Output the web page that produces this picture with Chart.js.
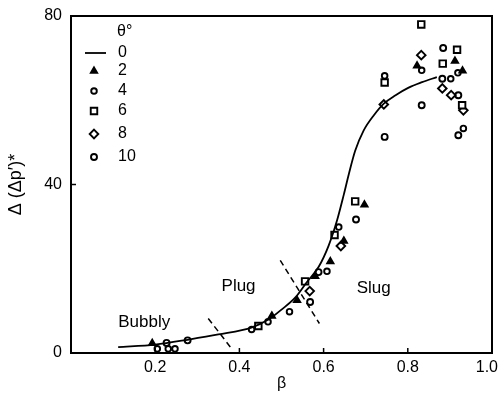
<!DOCTYPE html>
<html><head><meta charset="utf-8">
<script src="https://cdn.jsdelivr.net/npm/chart.js@4/dist/chart.umd.min.js"></script>
<style>html,body{margin:0;padding:0;background:#fff}</style>
</head><body>
<canvas id="c" width="499" height="393"></canvas>
<script>
// ---- data ----
const xTicks = [0.2, 0.4, 0.6, 0.8, 1.0];
const xTickLabels = ['0.2', '0.4', '0.6', '0.8', '1.0'];
const yTicks = [0, 40, 80];
const legendTitle = 'θ°';

// theta = 0 : fitted curve
const curveBeta = [0.112, 0.2, 0.28, 0.35, 0.43, 0.47, 0.50, 0.533, 0.56, 0.588, 0.612, 0.632, 0.648, 0.66, 0.675, 0.695, 0.719, 0.743, 0.771, 0.802, 0.834, 0.869];
const curveY    = [1.4, 2.0, 3.2, 4.4, 6.1, 8.0, 10.3, 13.2, 16.8, 20.4, 25.5, 31.5, 37.6, 42.5, 48.0, 52.8, 56.4, 59.2, 61.2, 63.0, 64.3, 65.5];

// theta = 2 (filled triangles)
const t2Beta = [0.193, 0.477, 0.537, 0.580, 0.616, 0.648, 0.697, 0.822, 0.912, 0.930];
const t2Y    = [2.3, 8.8, 12.5, 18.2, 21.7, 26.6, 35.2, 68.2, 69.3, 67.0];

// theta = 4 (small circles)
const t4Beta = [0.205, 0.231, 0.247, 0.429, 0.468, 0.519, 0.608, 0.636, 0.745, 0.833, 0.902, 0.919, 0.932];
const t4Y    = [1.0, 1.0, 1.0, 5.6, 7.4, 9.8, 19.4, 29.9, 65.8, 67.1, 65.1, 66.5, 53.3];

// theta = 6 (squares)
const t6Beta = [0.445, 0.556, 0.626, 0.675, 0.745, 0.832, 0.883, 0.917, 0.929];
const t6Y    = [6.4, 17.0, 28.0, 36.0, 64.2, 78.0, 68.7, 72.0, 58.8];

// theta = 8 (diamonds)
const t8Beta = [0.567, 0.641, 0.743, 0.832, 0.882, 0.903, 0.932];
const t8Y    = [14.7, 25.4, 59.0, 70.7, 62.8, 61.2, 57.6];

// theta = 10 (circles)
const t10Beta = [0.227, 0.277, 0.568, 0.588, 0.677, 0.745, 0.833, 0.884, 0.882, 0.920, 0.920];
const t10Y    = [2.4, 3.0, 12.1, 19.2, 31.7, 51.3, 58.8, 72.4, 65.1, 61.2, 51.7];

// flow-regime boundaries (dashed)
const bound1Beta = [0.326, 0.381];
const bound1Y    = [8.2, 1.1];
const bound2Beta = [0.497, 0.590];
const bound2Y    = [22.0, 7.0];

// regime labels
const regimeNames = ['Bubbly', 'Plug', 'Slug'];
const regimeBeta  = [0.174, 0.398, 0.719];
const regimeY     = [7.3, 15.8, 15.4];

const pts = (xs, ys) => xs.map((x, i) => ({x, y: ys[i]}));
const FONT = "'Liberation Sans', Arial, sans-serif";
const MW = 1.9;

function mk(label, xs, ys, style, r, fill) {
  return {
    type: 'scatter', label, data: pts(xs, ys),
    pointStyle: style, pointRadius: r, pointHoverRadius: r,
    pointBorderWidth: MW, pointBorderColor: '#000',
    pointBackgroundColor: fill ? '#000' : '#fff',
    showLine: false
  };
}

const datasets = [
  { type: 'line', label: '0', data: pts(curveBeta, curveY), borderColor: '#000', borderWidth: 1.8,
    pointRadius: 0, fill: false, cubicInterpolationMode: 'monotone', legendLine: true },
  mk('2', t2Beta, t2Y, 'triangle', 3.6, true),
  mk('4', t4Beta, t4Y, 'circle', 2.8, false),
  mk('6', t6Beta, t6Y, 'rect', 4.6, false),
  mk('8', t8Beta, t8Y, 'rectRot', 4.3, false),
  mk('10', t10Beta, t10Y, 'circle', 3.0, false),
  { type: 'line', label: 'b1', data: pts(bound1Beta, bound1Y), borderColor: '#000', borderWidth: 1.5,
    borderDash: [6, 4], pointRadius: 0, fill: false, noLegend: true },
  { type: 'line', label: 'b2', data: pts(bound2Beta, bound2Y), borderColor: '#000', borderWidth: 1.5,
    borderDash: [6, 4], pointRadius: 0, fill: false, noLegend: true }
];

function drawMarker(ctx, style, x, y, r, fill) {
  ctx.save();
  ctx.lineWidth = MW; ctx.strokeStyle = '#000'; ctx.fillStyle = fill ? '#000' : '#fff';
  ctx.beginPath();
  if (style === 'circle') ctx.arc(x, y, r, 0, Math.PI * 2);
  else if (style === 'rect') { const s = r * Math.SQRT1_2; ctx.rect(x - s, y - s, 2 * s, 2 * s); }
  else if (style === 'rectRot') { ctx.moveTo(x, y - r); ctx.lineTo(x + r, y); ctx.lineTo(x, y + r); ctx.lineTo(x - r, y); ctx.closePath(); }
  else if (style === 'triangle') {
    const a = -Math.PI / 2;
    for (let k = 0; k < 3; k++) { const t = a + k * 2 * Math.PI / 3; const px = x + r * Math.cos(t), py = y + r * Math.sin(t); k ? ctx.lineTo(px, py) : ctx.moveTo(px, py); }
    ctx.closePath();
  }
  ctx.fill(); ctx.stroke(); ctx.restore();
}

const decor = {
  id: 'decor',
  afterDatasetsDraw(chart) {
    const {ctx, chartArea: a, scales: {x, y}, width: W} = chart;
    ctx.save();
    // frame
    ctx.strokeStyle = '#000'; ctx.lineWidth = 2;
    ctx.strokeRect(a.left, a.top, a.right - a.left, a.bottom - a.top);
    // inward ticks
    ctx.lineWidth = 1.5;
    xTicks.forEach(v => { const px = x.getPixelForValue(v); ctx.beginPath(); ctx.moveTo(px, a.bottom); ctx.lineTo(px, a.bottom - 5); ctx.stroke(); });
    yTicks.forEach(v => { const py = y.getPixelForValue(v); ctx.beginPath(); ctx.moveTo(a.left, py); ctx.lineTo(a.left + 5, py); ctx.stroke(); });
    // x tick labels (kept inside the canvas at the right edge)
    ctx.fillStyle = '#000'; ctx.font = '16px ' + FONT; ctx.textAlign = 'center'; ctx.textBaseline = 'middle';
    xTicks.forEach((v, i) => {
      const t = xTickLabels[i], w = ctx.measureText(t).width;
      const px = Math.min(x.getPixelForValue(v), W - 1 - w / 2);
      ctx.fillText(t, px, a.bottom + 15);
    });
    // regime labels
    ctx.font = '17px ' + FONT;
    regimeNames.forEach((n, i) => ctx.fillText(n, x.getPixelForValue(regimeBeta[i]), y.getPixelForValue(regimeY[i])));
    // legend
    const lx = 94, tx = 118;
    ctx.font = '16px ' + FONT; ctx.textAlign = 'left';
    ctx.fillText(legendTitle, tx - 1, 32);
    const rowsY = [53, 71, 91, 111, 134, 157];
    const items = chart.data.datasets.filter(d => !d.noLegend);
    items.forEach((d, i) => {
      const ry = rowsY[i];
      if (d.legendLine) {
        ctx.lineWidth = 1.8; ctx.beginPath(); ctx.moveTo(85, ry); ctx.lineTo(106, ry); ctx.stroke();
      } else {
        drawMarker(ctx, d.pointStyle, lx, ry, d.pointRadius, d.pointBackgroundColor === '#000');
      }
      ctx.fillStyle = '#000';
      ctx.fillText(d.label, tx, ry);
    });
    ctx.restore();
  }
};

new Chart(document.getElementById('c'), {
  type: 'scatter',
  data: { datasets },
  options: {
    responsive: false, animation: false,
    layout: { padding: { top: 16, right: 7, bottom: 0, left: 0 } },
    plugins: { legend: { display: false }, tooltip: { enabled: false } },
    scales: {
      x: {
        type: 'linear', min: 0, max: 1.0,
        afterBuildTicks: s => { s.ticks = xTicks.map(v => ({value: v})); },
        afterFit: s => { s.height = 40; s.paddingLeft = 0; s.paddingRight = 0; },
        grid: { display: false, drawTicks: false },
        border: { display: false },
        ticks: { display: false },
        title: { display: true, text: 'β', color: '#000', font: { family: FONT, size: 16 }, padding: { top: 0, bottom: 0 } }
      },
      y: {
        type: 'linear', min: 0, max: 80,
        afterBuildTicks: s => { s.ticks = yTicks.map(v => ({value: v})); },
        afterFit: s => { s.width = 71; s.paddingTop = 0; s.paddingBottom = 0; },
        grid: { display: false, drawTicks: false },
        border: { display: false },
        ticks: { color: '#000', padding: 9, font: { family: FONT, size: 16 } },
        title: { display: true, text: 'Δ (Δp′)*', color: '#000', font: { family: FONT, size: 18 }, padding: { top: 5, bottom: 0 } }
      }
    }
  },
  plugins: [decor]
});
</script>
</body></html>
